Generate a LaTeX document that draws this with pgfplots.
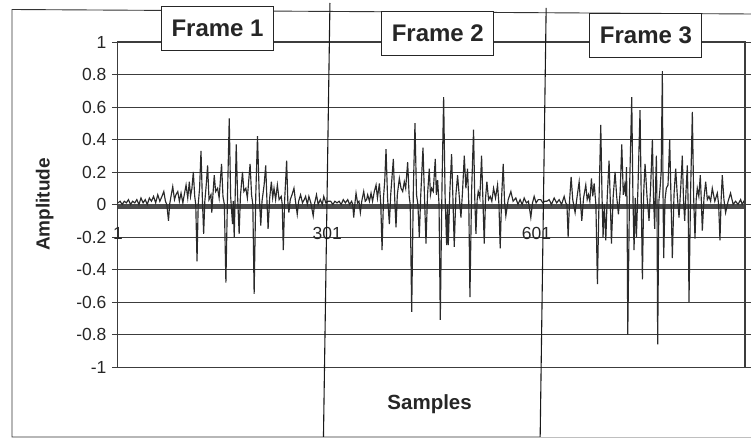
\documentclass[border=0pt]{standalone}
\usepackage{pgfplots}
\pgfplotsset{compat=1.18}
\usepackage{fontspec}
\setmainfont{Liberation Sans}
\definecolor{sig}{HTML}{2A2A2A}
\definecolor{band}{HTML}{4A4A4A}
\definecolor{gridc}{HTML}{3C3C3C}
\begin{document}
\begin{tikzpicture}
\useasboundingbox (-118bp,-71bp) rectangle (633bp,367bp);
% outer chart border
\draw[line width=0.9bp, black!80] (633bp,353bp) -- (-106bp,357.5bp) -- (-106bp,-70bp) -- (422bp,-70bp);
\draw[line width=0.6bp, black!25] (422bp,-70bp) -- (633bp,-70bp);
\begin{axis}[
  at={(0,0)}, anchor=south west,
  scale only axis, width=627bp, height=325bp,
  xmin=1, xmax=900, ymin=-1, ymax=1,
  clip=false,
  axis line style={line width=1bp, gridc},
  ytick={-1,-0.8,-0.6,-0.4,-0.2,0,0.2,0.4,0.6,0.8,1},
  yticklabels={-1,-0.8,-0.6,-0.4,-0.2,0,0.2,0.4,0.6,0.8,1},
  xtick={1,301,601},
  xticklabels={1,301,601},
  tick align=outside, major tick length=6bp,
  xtick style={draw=none},
  ytick style={line width=0.8bp, gridc},
  ymajorgrids, major grid style={line width=0.9bp, gridc},
  /pgf/number format/assume math mode=true,
  tick label style={font=\fontsize{17.5bp}{19bp}\selectfont, text=black!85},
  x tick label style={yshift=149bp},
  y tick label style={xshift=-2bp},
  xlabel={Samples}, ylabel={Amplitude},
  every axis x label/.style={at={(axis description cs:0.497,0)}, anchor=north, yshift=-24bp, font=\fontsize{20.5bp}{22bp}\selectfont\bfseries, text=black!85},
  every axis y label/.style={at={(axis description cs:-0.117,0.5)}, rotate=90, anchor=center, font=\fontsize{19bp}{21bp}\selectfont\bfseries, text=black!85},
]
% thick band near zero
\addplot[band, line width=5.5bp, forget plot] coordinates {(1,-0.013) (900,-0.013)};
% frame 1
\addplot[sig, line width=1.15bp, forget plot] coordinates {
(1,0.01) (4,0.02) (7,0.0) (10,0.02) (13,0.01) (16,0.03) (19,0.0) (22,0.02) (25,0.01) (28,0.03) (31,0.0) (34,0.04) (37,0.01) (40,0.03) (43,0.0) (46,0.04) (49,0.02) (52,0.05) (55,0.01) (58,0.06) (61,0.02) (64,0.05) (66.7,0.08) (69,0.02) (71,0.0) (73.4,-0.1) (75,0.0) (77,0.05) (79.5,0.11) (82,0.03) (84,0.06) (86.7,0.08) (89,0.02) (91.4,0.07) (94,0.01) (96,0.06) (98.6,0.12) (101,0.04) (103.3,0.14) (105,0.05) (107,0.1) (109,0.2) (111,0.05) (112.5,0.0) (114.3,-0.35) (116,0.0) (118,0.1) (120,0.33) (122,0.03) (123.8,-0.18) (125.5,0.02) (127.5,0.12) (129.5,0.24) (131.5,0.03) (134.3,0.06) (135.5,-0.05) (136.5,0.02) (139,0.18) (141,0.08) (143.8,0.1) (146,0.04) (147.8,0.15) (149.5,0.25) (151.5,0.05) (153.5,0.0) (155.7,-0.48) (158,0.05) (160.5,0.53) (162.5,0.05) (165.2,-0.12) (166.3,0.02) (167.6,-0.2) (169,0.05) (170.5,0.37) (172.5,0.05) (174.7,-0.18) (176.5,0.05) (179.5,0.2) (181.5,0.08) (184.3,0.1) (186.5,0.04) (188.5,0.15) (190.4,0.25) (192.5,0.06) (194.3,0.0) (196.2,-0.55) (198.5,0.05) (201,0.42) (203.5,0.06) (205.7,-0.13) (207.5,0.02) (210.5,0.12) (212.8,0.24) (214.5,0.03) (216.2,-0.15) (218.5,0.04) (220.9,0.14) (222.8,0.04) (224.7,0.1) (227,0.03) (229.5,0.12) (232,0.03) (235,0.05) (236.5,0.0) (238,-0.28) (240,0.03) (242.8,0.27) (244.5,0.02) (246,-0.05) (248,0.03) (250.5,0.06) (253.3,0.1) (255.5,0.02) (258,-0.06) (260,0.02) (262.8,0.06) (265.5,0.01) (268,0.03) (270,0.05) (272.5,0.0) (274.7,0.05) (277.5,0.01) (280.9,-0.07) (283,0.01) (285.6,0.06) (288,0.0) (291,0.03) (294,0.0) (296,0.05) (299,0.01) (302,0.02)
};
% frame 2
\addplot[sig, line width=1.15bp, forget plot] coordinates {
(302,0.02) (306,0.02) (309,0.0) (312,0.02) (315,0.01) (318,0.02) (321,0.0) (324,0.03) (327,0.01) (330.4,0.03) (333,0.0) (336,0.02) (337.5,0.0) (339,-0.08) (340.5,0.0) (342.3,0.07) (344.5,0.01) (346.5,0.02) (348.5,-0.05) (350.5,0.02) (353.3,0.08) (355.5,0.02) (357.5,0.03) (359,0.06) (361.5,0.02) (363.8,0.07) (366,0.02) (368.5,0.08) (371,0.12) (373,0.04) (375.8,0.13) (377.8,0.0) (379.6,-0.28) (381.8,0.05) (383.5,0.15) (385.3,0.34) (387.5,0.04) (390.1,-0.12) (392,0.06) (395.8,0.28) (397.8,0.03) (399.6,-0.14) (401.5,0.06) (404.4,0.16) (406.8,0.1) (409.2,0.08) (411.5,0.14) (413.5,0.1) (416.3,0.26) (418.5,0.05) (420,0.0) (422.1,-0.66) (424.5,0.1) (426.8,0.5) (429,0.06) (431,0.0) (433,-0.2) (435,0.05) (438.3,0.35) (440.5,0.04) (442.6,-0.24) (444.8,0.06) (447.3,0.22) (449,0.06) (450.7,0.1) (453,0.08) (455.9,0.28) (457.5,0.06) (459.3,0.15) (461.3,0.0) (463.1,-0.71) (465.5,0.1) (467.9,0.66) (470,0.05) (472.2,-0.25) (473.4,0.0) (474.6,-0.25) (476.8,0.08) (479.3,0.31) (481.2,0.04) (483.1,-0.26) (485.5,0.06) (487.9,0.18) (490.3,0.05) (492.7,-0.08) (495,0.08) (497.5,0.3) (499.8,0.1) (502.2,0.22) (504,0.0) (505.6,-0.57) (508,0.08) (510.8,0.46) (512.5,0.04) (514.2,-0.18) (516,0.03) (517.5,0.08) (519.8,0.04) (522.3,0.3) (524.2,0.03) (526.1,-0.24) (528,0.04) (529.9,0.14) (532.3,0.03) (534.7,0.05) (537,0.02) (539.5,0.1) (542.3,0.04) (545.2,0.12) (547.2,0.0) (549,-0.27) (551,0.04) (553.3,0.25) (555.2,0.02) (557.1,-0.07) (560.5,0.03) (564.3,0.08) (567.5,0.02) (571.4,0.04) (574.5,0.0) (577.5,0.03) (580.5,0.0) (583.4,0.04) (586.5,0.01) (589.5,0.02) (592.9,-0.08) (595.3,0.01) (597.7,0.05) (600.5,0.01) (603.5,0.03) (607.2,0.03) (610,0.01) (613,0.02) (616,0.02)
};
% frame 3
\addplot[sig, line width=1.15bp, forget plot] coordinates {
(616,0.02) (619.2,0.03) (622.5,0.0) (626.4,0.04) (630,0.01) (633.5,0.03) (637,0.0) (640.7,0.05) (643,0.01) (644.7,0.0) (646.4,-0.2) (648.4,0.02) (650.7,0.17) (653,0.03) (656.4,-0.05) (659,0.04) (662.2,0.14) (664,0.02) (666,-0.1) (668.5,0.04) (671.7,0.12) (673.7,0.03) (675.5,0.06) (677.5,0.02) (679.8,0.16) (681.7,0.05) (683.7,0.13) (686.2,0.0) (688.4,-0.49) (690.8,0.05) (693.2,0.49) (695,0.05) (696.5,-0.2) (698.3,0.0) (700.4,-0.22) (702.5,0.05) (705.1,0.27) (706.8,0.03) (708.5,-0.24) (711,0.05) (713.7,0.2) (716,0.05) (718.5,-0.06) (721,0.08) (723.3,0.37) (725.5,0.06) (727.6,0.12) (729,0.05) (730,0.23) (730.9,0.0) (731.9,-0.8) (734.5,0.1) (737.6,0.66) (739.3,0.05) (740.9,-0.28) (742.6,0.04) (744.3,-0.2) (746.5,0.1) (749.5,0.58) (751.2,0.05) (752.9,-0.46) (754.8,0.08) (756.7,0.25) (759.5,0.05) (762.4,-0.1) (764.8,0.12) (767.2,0.4) (768.8,0.05) (770.5,-0.15) (771.7,0.1) (772.9,0.3) (773.8,0.0) (774.8,-0.86) (776.5,0.02) (778.2,0.1) (779.8,0.2) (781.5,0.82) (782.5,0.05) (783.4,-0.33) (785.3,0.03) (787.2,0.1) (789.6,0.12) (792,0.4) (793.9,0.04) (795.8,-0.33) (798.2,0.06) (800.6,0.22) (803,0.05) (805.4,-0.08) (807.8,0.1) (810.1,0.3) (811.8,0.03) (813.5,-0.1) (815.4,0.08) (817.3,0.24) (818.5,0.0) (819.7,-0.6) (822,0.08) (824.5,0.57) (826.4,0.04) (828.3,-0.21) (830,0.03) (831.6,0.1) (833.8,0.05) (835.9,0.18) (837.4,0.02) (838.8,-0.16) (841.2,0.04) (843.6,0.14) (846,0.03) (848.3,0.05) (850.7,0.02) (853.1,0.1) (856.7,0.02) (860.3,0.07) (862.2,0.0) (864.1,-0.22) (865.8,0.03) (867.4,0.18) (869.8,0.03) (872.2,-0.05) (875.8,0.02) (879.3,0.07) (883,0.0) (886.5,0.02) (890,0.0) (893.7,0.03) (896,0.0) (898.4,0.02) (900,0.01)
};
% right border of plot area (explicit)
\draw[line width=1.1bp, gridc] (rel axis cs:1,0) -- (rel axis cs:1,1);
% frame boundary lines
\draw[line width=1.1bp, black!90] (axis cs:304.9,1.24) -- (axis cs:295.6,-1.43);
\draw[line width=1.1bp, black!90] (axis cs:614.9,1.21) -- (axis cs:606.3,-1.43);
% frame labels
\tikzset{framebox/.style={draw=black!85, fill=white, line width=1bp, minimum width=112bp, minimum height=44bp, inner sep=0pt, font=\fontsize{24bp}{26bp}\selectfont\bfseries, text=black!85}}
\node[framebox] at (axis cs:143.8,1.086) {Frame 1};
\node[framebox] at (axis cs:459.5,1.052) {Frame 2};
\node[framebox] at (axis cs:758,1.043) {Frame 3};
\end{axis}
\end{tikzpicture}
\end{document}
